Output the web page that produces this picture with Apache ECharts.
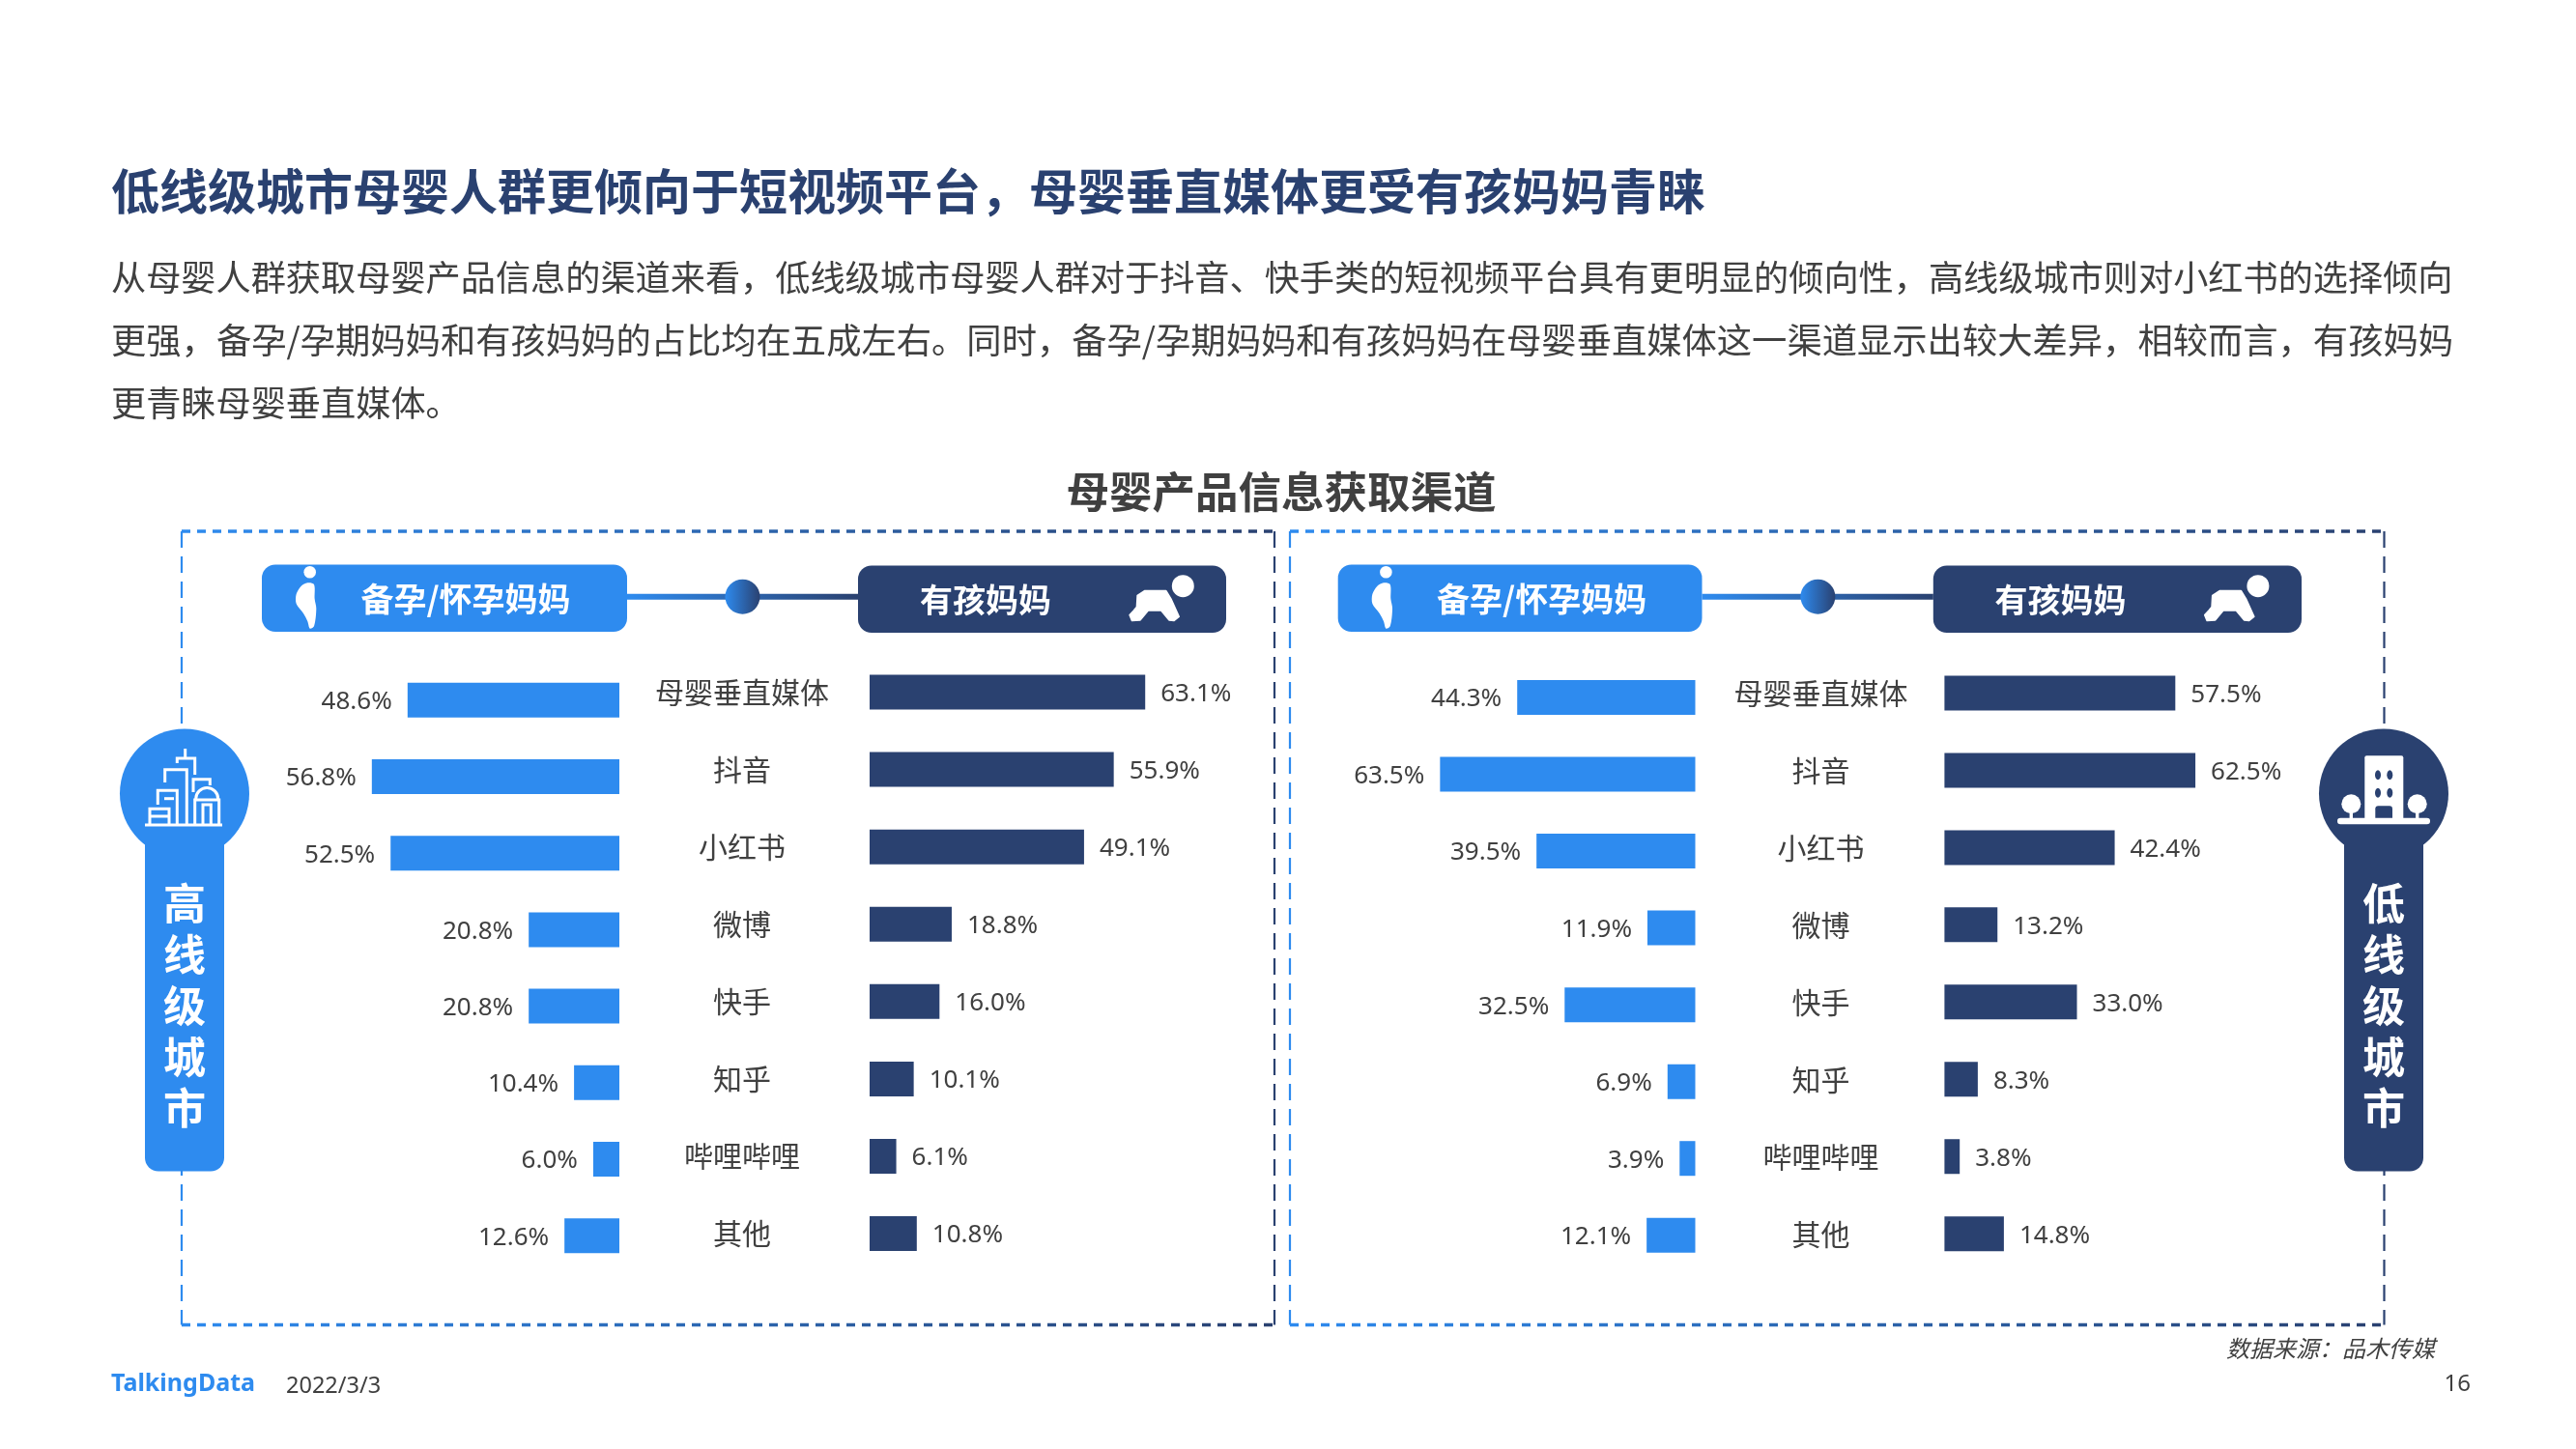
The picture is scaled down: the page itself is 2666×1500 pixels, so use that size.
<!DOCTYPE html>
<html>
<head>
<meta charset="utf-8">
<style>
  html, body { margin: 0; padding: 0; background: #fff; }
  #main { width: 2666px; height: 1500px; }
</style>
<script src="https://cdn.jsdelivr.net/npm/echarts@6/dist/echarts.min.js"></script>
</head>
<body>
<div id="main"></div>
<script>
// data (percent)
const categories = ['母婴垂直媒体', '抖音', '小红书', '微博', '快手', '知乎', '哔哩哔哩', '其他'];
const highPrep = [48.6, 56.8, 52.5, 20.8, 20.8, 10.4, 6.0, 12.6];
const highMom = [63.1, 55.9, 49.1, 18.8, 16.0, 10.1, 6.1, 10.8];
const lowPrep = [44.3, 63.5, 39.5, 11.9, 32.5, 6.9, 3.9, 12.1];
const lowMom = [57.5, 62.5, 42.4, 13.2, 33.0, 8.3, 3.8, 14.8];

const titleText = '低线级城市母婴人群更倾向于短视频平台，母婴垂直媒体更受有孩妈妈青睐';
const bodyLines = [
  '从母婴人群获取母婴产品信息的渠道来看，低线级城市母婴人群对于抖音、快手类的短视频平台具有更明显的倾向性，高线级城市则对小红书的选择倾向',
  '更强，备孕/孕期妈妈和有孩妈妈的占比均在五成左右。同时，备孕/孕期妈妈和有孩妈妈在母婴垂直媒体这一渠道显示出较大差异，相较而言，有孩妈妈',
  '更青睐母婴垂直媒体。'
];

const BLUE = '#2e8bef';
const NAVY = '#2a4170';
const GRAY = '#404040';
const CJK = '"Noto Sans CJK SC", "Noto Sans", sans-serif';
const LATIN = '"Noto Sans", "Noto Sans CJK SC", sans-serif';
const AXIS_MAX = 70;

const grad = (x0, y0, x1, y1) => new echarts.graphic.LinearGradient(x0, y0, x1, y1, [
  { offset: 0, color: BLUE }, { offset: 1, color: NAVY }
], true);

const txt = (text, x, y, size, fill, extra) => ({
  type: 'text',
  z: 10,
  style: Object.assign({
    text, x, y, fill,
    fontSize: size,
    fontFamily: CJK,
    align: 'left',
    verticalAlign: 'middle'
  }, extra)
});

const hLine = (x1, x2, y) => ({
  type: 'line',
  shape: { x1, y1: y, x2, y2: y },
  style: { stroke: grad(x1, y, x2, y), lineWidth: 3.5, lineDash: [9, 7] }
});
const vLine = (x, y1, y2, stroke) => ({
  type: 'line',
  shape: { x1: x, y1, x2: x, y2 },
  style: { stroke, lineWidth: 2.2, lineDash: [17, 9] }
});

// dashed frame of one panel
function frame(left, right, top, bottom) {
  return [
    hLine(left, right, top),
    hLine(left, right, bottom),
    vLine(left, top, bottom, BLUE),
    vLine(right, top, bottom, NAVY)
  ];
}

// pregnant woman icon, dx moves it into the panel
function womanIcon(dx) {
  const pts = [[85, 70], [105, 75], [107, 120], [112, 150], [105, 205], [92, 212], [85, 190], [72, 165], [50, 135], [50, 105], [65, 80]];
  return [
    { type: 'circle', z: 10, shape: { cx: 320.7 + dx, cy: 592.3, r: 6.3 }, style: { fill: '#fff' } },
    { type: 'polygon', z: 10, shape: { points: pts.map(p => [290 + dx + p[0] / 3, 580 + p[1] / 3]), smooth: 0.3 }, style: { fill: '#fff' } }
  ];
}

function babyIcon(dx) {
  const pts = [[75, 80], [140, 80], [155, 105], [180, 160], [165, 172], [150, 170], [125, 140], [85, 140], [60, 170], [35, 172], [28, 155], [40, 142], [50, 130], [52, 95]];
  return [
    { type: 'circle', z: 10, shape: { cx: 1224.3 + dx, cy: 606.7, r: 11.5 }, style: { fill: '#fff' } },
    { type: 'polygon', z: 10, shape: { points: pts.map(p => [1160 + dx + p[0] / 3, 585 + p[1] / 3]) }, style: { fill: '#fff', stroke: '#fff', lineWidth: 2, lineJoin: 'round' } }
  ];
}

// the two pills with the connector between them
function header(x1, x2, x3, x4, cx, dxText, dxMom) {
  const y = 617.7;
  return [
    { type: 'line', shape: { x1: x2, y1: y, x2: x3, y2: y }, style: { stroke: grad(x2, y, x3, y), lineWidth: 6 } },
    { type: 'rect', z: 5, shape: { x: x1, y: 584.5, width: x2 - x1, height: 69.5, r: 14 }, style: { fill: BLUE } },
    { type: 'rect', z: 5, shape: { x: x3, y: 585.5, width: x4 - x3, height: 69.5, r: 14 }, style: { fill: NAVY } },
    { type: 'circle', z: 5, shape: { cx, cy: y, r: 18 }, style: { fill: grad(cx - 18, y, cx + 18, y) } },
    txt('备孕/怀孕妈妈', 482 + dxText, 620, 34, '#fff', { fontWeight: 'bold', align: 'center' }),
    txt('有孩妈妈', 1020 + dxMom, 621, 34, '#fff', { fontWeight: 'bold', align: 'center' }),
    ...womanIcon(dxText),
    ...babyIcon(dxMom)
  ];
}

// round head with a stem and the vertical city name
function badge(cx, color, label) {
  return [
    { type: 'circle', z: 5, shape: { cx, cy: 821.5, r: 67 }, style: { fill: color } },
    { type: 'rect', z: 5, shape: { x: cx - 41, y: 860, width: 82, height: 352.5, r: [0, 0, 14, 14] }, style: { fill: color } },
    txt(label.split('').join('\n'), cx, 1041, 44, '#fff', { fontWeight: 'bold', align: 'center', lineHeight: 53 })
  ];
}

// outlined skyline on the high tier badge
function cityIcon() {
  const strokes = [
    [[150, 854], [230, 854]],
    [[170.7, 810], [170.7, 796.7], [193.3, 796.7], [193.3, 853]],
    [[191.7, 775], [191.7, 785]],
    [[183.3, 790], [183.3, 785], [201.7, 785], [201.7, 802]],
    [[200, 820], [200, 806.7], [217.3, 806.7], [217.3, 813]],
    [[163.3, 833], [163.3, 818.3], [183.3, 818.3], [183.3, 853]],
    [[170, 826.7], [180, 826.7]],
    [[155, 853], [155, 837.3], [175, 837.3], [175, 853]],
    [[155, 845], [175, 845]],
    [[201.7, 853], [201.7, 828], [226.7, 828], [226.7, 853]],
    [[210, 853], [210, 833], [218.3, 833], [218.3, 853]]
  ];
  const lines = strokes.map(points => ({
    type: 'polyline', z: 10, shape: { points }, style: { stroke: '#fff', lineWidth: 3, fill: null }
  }));
  lines.push({
    type: 'arc', z: 10,
    shape: { cx: 214.2, cy: 827, r: 11.5, startAngle: Math.PI, endAngle: 2 * Math.PI },
    style: { stroke: '#fff', lineWidth: 3, fill: null }
  });
  return lines;
}

// building and two trees on the low tier badge
function townIcon() {
  const white = { fill: '#fff' };
  const navy = { fill: NAVY };
  const out = [
    { type: 'rect', z: 10, shape: { x: 2447.3, y: 782.3, width: 40, height: 66, r: 2 }, style: white },
    { type: 'rect', z: 10, shape: { x: 2419, y: 846.7, width: 96, height: 6.6, r: 3.3 }, style: white },
    { type: 'rect', z: 11, shape: { x: 2458.3, y: 834.3, width: 17.7, height: 12.4, r: [3, 3, 0, 0] }, style: navy }
  ];
  [2433.3, 2501.7].forEach(cx => {
    out.push({ type: 'circle', z: 10, shape: { cx, cy: 832.3, r: 10 }, style: white });
    out.push({ type: 'rect', z: 10, shape: { x: cx - 1.7, y: 838, width: 3.4, height: 10 }, style: white });
  });
  [[2461, 802.3], [2473.3, 802.3], [2461, 820.7], [2473.3, 820.7]].forEach(p => {
    out.push({ type: 'ellipse', z: 11, shape: { cx: p[0], cy: p[1], rx: 3, ry: 5 }, style: navy });
  });
  return out;
}

const graphics = [
  txt(titleText, 115, 198, 50, NAVY, { fontWeight: 'bold' }),
  txt(bodyLines[0], 115, 287, 36.18, GRAY),
  txt(bodyLines[1], 115, 352, 36.3, GRAY),
  txt(bodyLines[2], 115, 417, 36.18, GRAY),
  txt('母婴产品信息获取渠道', 1326, 509, 44.5, GRAY, { fontWeight: 'bold', align: 'center' }),
  ...frame(188, 1319, 550, 1371.5),
  ...frame(1335, 2467.5, 550, 1371.5),
  ...header(271, 649, 888, 1269, 768.5, 0, 0),
  ...header(1384.7, 1761.5, 2000.8, 2382, 1881.4, 1113.7, 1112.6),
  ...badge(191, BLUE, '高线级城市'),
  ...badge(2467, NAVY, '低线级城市'),
  ...cityIcon(),
  ...townIcon(),
  txt('TalkingData', 115, 1433, 25, BLUE, { fontFamily: LATIN, fontWeight: 'bold' }),
  txt('2022/3/3', 296, 1435, 23.5, GRAY, { fontFamily: LATIN }),
  txt('数据来源：品木传媒', 2520, 1396, 24, GRAY, { align: 'right', fontStyle: 'italic' }),
  txt('16', 2557, 1433, 24, GRAY, { fontFamily: LATIN, align: 'right' })
];

// one half of a butterfly: side is 'left' (bars grow to the left) or 'right'
const panels = [
  { values: highPrep, side: 'left', color: BLUE, left: 641 - 4.51 * AXIS_MAX, width: 4.51 * AXIS_MAX, top: 685.2, rowH: 79.2 },
  { values: highMom, side: 'right', color: NAVY, left: 900, width: 4.52 * AXIS_MAX, top: 676.5, rowH: 80.07, labelX: 768, labelPad: 6 },
  { values: lowPrep, side: 'left', color: BLUE, left: 1754.5 - 4.16 * AXIS_MAX, width: 4.16 * AXIS_MAX, top: 682.2, rowH: 79.54 },
  { values: lowMom, side: 'right', color: NAVY, left: 2012.4, width: 4.155 * AXIS_MAX, top: 677.5, rowH: 79.96, labelX: 1884.6, labelPad: 2 }
];

const grid = panels.map(p => ({
  left: p.left, top: p.top, width: p.width, height: p.rowH * categories.length,
  containLabel: false, outerBoundsMode: 'none'
}));

const xAxis = panels.map((p, i) => ({
  type: 'value', gridIndex: i, min: 0, max: AXIS_MAX, show: false, inverse: p.side === 'left'
}));

const yAxis = panels.map((p, i) => ({
  type: 'category',
  gridIndex: i,
  data: categories,
  inverse: true,
  position: p.side === 'left' ? 'right' : 'left',
  axisLine: { show: false },
  axisTick: { show: false },
  axisLabel: p.labelX ? {
    show: true,
    interval: 0,
    hideOverlap: false,
    margin: p.left - p.labelX,
    align: 'center',
    fontSize: 30,
    fontFamily: CJK,
    color: GRAY,
    padding: [p.labelPad, 0, 0, 0]
  } : { show: false }
}));

const series = panels.map((p, i) => ({
  type: 'bar',
  xAxisIndex: i,
  yAxisIndex: i,
  data: p.values,
  barWidth: 36,
  itemStyle: { color: p.color },
  silent: true,
  label: {
    show: true,
    position: p.side,
    distance: 16,
    offset: [0, 2],
    fontSize: 26,
    fontFamily: LATIN,
    color: GRAY,
    formatter: d => d.value.toFixed(1) + '%'
  }
}));

const chart = echarts.init(document.getElementById('main'), null, { renderer: 'canvas' });
chart.setOption({
  animation: false,
  backgroundColor: '#fff',
  grid, xAxis, yAxis, series,
  graphic: { elements: graphics }
});
</script>
</body>
</html>
